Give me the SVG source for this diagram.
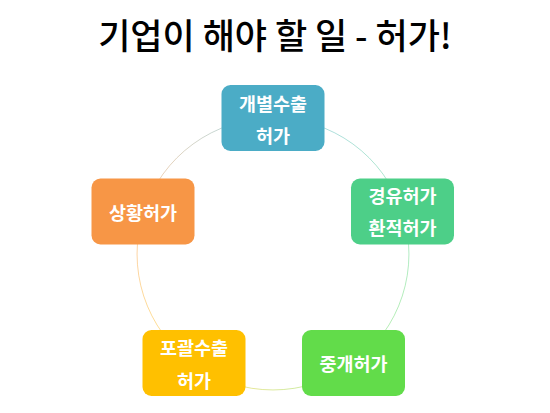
<svg xmlns="http://www.w3.org/2000/svg" width="550" height="413" viewBox="0 0 550 413">
  <defs>
    <linearGradient id="g1" gradientUnits="userSpaceOnUse" x1="273" y1="118" x2="402.3" y2="212">
      <stop offset="0" stop-color="#4BACC6"/><stop offset="1" stop-color="#4DCF88"/>
    </linearGradient>
    <linearGradient id="g2" gradientUnits="userSpaceOnUse" x1="402.3" y1="212" x2="352.9" y2="364">
      <stop offset="0" stop-color="#4DCF88"/><stop offset="1" stop-color="#62DC4A"/>
    </linearGradient>
    <linearGradient id="g3" gradientUnits="userSpaceOnUse" x1="352.9" y1="364" x2="193.1" y2="364">
      <stop offset="0" stop-color="#62DC4A"/><stop offset="1" stop-color="#FFC000"/>
    </linearGradient>
    <linearGradient id="g4" gradientUnits="userSpaceOnUse" x1="193.1" y1="364" x2="143.7" y2="212">
      <stop offset="0" stop-color="#FFC000"/><stop offset="1" stop-color="#F79646"/>
    </linearGradient>
    <linearGradient id="g5" gradientUnits="userSpaceOnUse" x1="143.7" y1="212" x2="273" y2="118">
      <stop offset="0" stop-color="#F79646"/><stop offset="1" stop-color="#4BACC6"/>
    </linearGradient>
  </defs>
  <style>
    .title { font-family: "Noto Sans CJK KR", "Noto Sans", sans-serif; font-size: 35px; font-weight: 500; fill: #000; }
    .lbl { font-family: "Noto Sans CJK KR", "Noto Sans", sans-serif; font-size: 18.5px; font-weight: 700; fill: #fff; }
    .arc { fill: none; stroke-width: 1; stroke-opacity: 0.45; }
  </style>
  <rect width="550" height="413" fill="#fff"/>
  <text class="title" x="275" y="49" text-anchor="middle">기업이 해야 할 일 - 허가!</text>
  <g id="connectors">
    <path class="arc" stroke="url(#g1)" d="M273,118 A136,136 0 0 1 402.3,212"/>
    <path class="arc" stroke="url(#g2)" d="M402.3,212 A136,136 0 0 1 352.9,364"/>
    <path class="arc" stroke="url(#g3)" d="M352.9,364 A136,136 0 0 1 193.1,364"/>
    <path class="arc" stroke="url(#g4)" d="M193.1,364 A136,136 0 0 1 143.7,212"/>
    <path class="arc" stroke="url(#g5)" d="M143.7,212 A136,136 0 0 1 273,118"/>
  </g>
  <g id="n1">
    <rect x="221.5" y="85" width="103" height="66" rx="9" fill="#4BACC6"/>
    <text class="lbl" x="273" y="102.5" text-anchor="middle" dominant-baseline="central">개별수출</text>
    <text class="lbl" x="273" y="134.5" text-anchor="middle" dominant-baseline="central">허가</text>
  </g>
  <g id="n2">
    <rect x="351" y="178.5" width="103" height="66" rx="9" fill="#4DCF88"/>
    <text class="lbl" x="402.5" y="195" text-anchor="middle" dominant-baseline="central">경유허가</text>
    <text class="lbl" x="402.5" y="227" text-anchor="middle" dominant-baseline="central">환적허가</text>
  </g>
  <g id="n3">
    <rect x="302" y="330" width="103" height="66" rx="9" fill="#62DC4A"/>
    <text class="lbl" x="353.5" y="363" text-anchor="middle" dominant-baseline="central">중개허가</text>
  </g>
  <g id="n4">
    <rect x="142.5" y="330" width="103" height="66" rx="9" fill="#FFC000"/>
    <text class="lbl" x="194" y="347" text-anchor="middle" dominant-baseline="central">포괄수출</text>
    <text class="lbl" x="194" y="379.5" text-anchor="middle" dominant-baseline="central">허가</text>
  </g>
  <g id="n5">
    <rect x="91.5" y="178.5" width="103" height="66" rx="9" fill="#F79646"/>
    <text class="lbl" x="143" y="211.5" text-anchor="middle" dominant-baseline="central">상황허가</text>
  </g>
</svg>
